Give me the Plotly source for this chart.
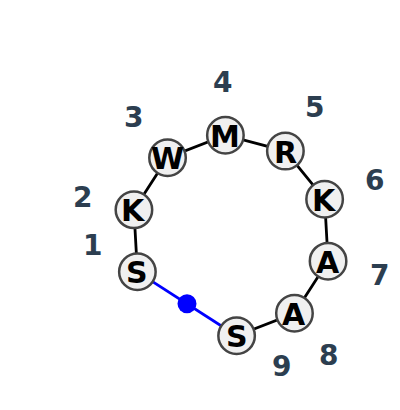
import plotly.graph_objects as go
import numpy as np

# sequence placed round the wheel, and the position numbers
residues = ["S", "K", "W", "M", "R", "K", "A", "A", "S"]
positions = ["1", "2", "3", "4", "5", "6", "7", "8", "9"]

# wheel geometry (pixel-like coordinates, y grows downward)
cx, cy, R = 231, 235.5, 100.4
start_deg, step_deg = 201.2, 36.0
label_r = 154
# labels next to the open gap are pulled inward
label_tweak = {0: (-17.5, 139), 8: (18, 139)}

ang = np.radians(start_deg - step_deg * np.arange(len(residues)))
nx = cx + R * np.cos(ang)
ny = cy - R * np.sin(ang)

lx, ly = [], []
for i in range(len(positions)):
    d, r = label_tweak.get(i, (0, label_r))
    a = ang[i] + np.radians(d)
    lx.append(cx + r * np.cos(a))
    ly.append(cy - r * np.sin(a))

mx = (nx[0] + nx[-1]) / 2
my = (ny[0] + ny[-1]) / 2

fig = go.Figure()

fig.add_trace(go.Scatter(x=nx, y=ny, mode="lines",
                         line=dict(color="black", width=2.8), hoverinfo="skip"))
fig.add_trace(go.Scatter(x=[nx[0], mx, nx[-1]], y=[ny[0], my, ny[-1]], mode="lines",
                         line=dict(color="#0000ff", width=2.8), hoverinfo="skip"))
fig.add_trace(go.Scatter(x=[mx], y=[my], mode="markers",
                         marker=dict(color="#0000ff", size=19), hoverinfo="skip"))
fig.add_trace(go.Scatter(
    x=nx, y=ny, mode="markers", hoverinfo="skip",
    marker=dict(size=36.5, color="#f0f0f0", line=dict(color="#444444", width=2.5)),
))

for x, y, t in zip(nx, ny, residues):
    fig.add_annotation(x=x, y=y, text=t, showarrow=False, yshift=-1,
                       xanchor="center", yanchor="middle",
                       font=dict(family="DejaVu Sans", size=30, color="black", weight="bold"))
for x, y, t in zip(lx, ly, positions):
    fig.add_annotation(x=x, y=y, text=t, showarrow=False, yshift=-1,
                       xanchor="center", yanchor="middle",
                       font=dict(family="DejaVu Sans", size=28, color="#2c3e50", weight="bold"))

# the page body adds an 8px margin, so the axes are offset to line up with page pixels
fig.update_layout(
    width=400, height=410,
    margin=dict(l=0, r=0, t=0, b=0),
    showlegend=False,
    paper_bgcolor="white", plot_bgcolor="white",
    xaxis=dict(range=[8, 408], visible=False, fixedrange=True),
    yaxis=dict(range=[418, 8], visible=False, fixedrange=True),
)

fig.write_html("out.html")
